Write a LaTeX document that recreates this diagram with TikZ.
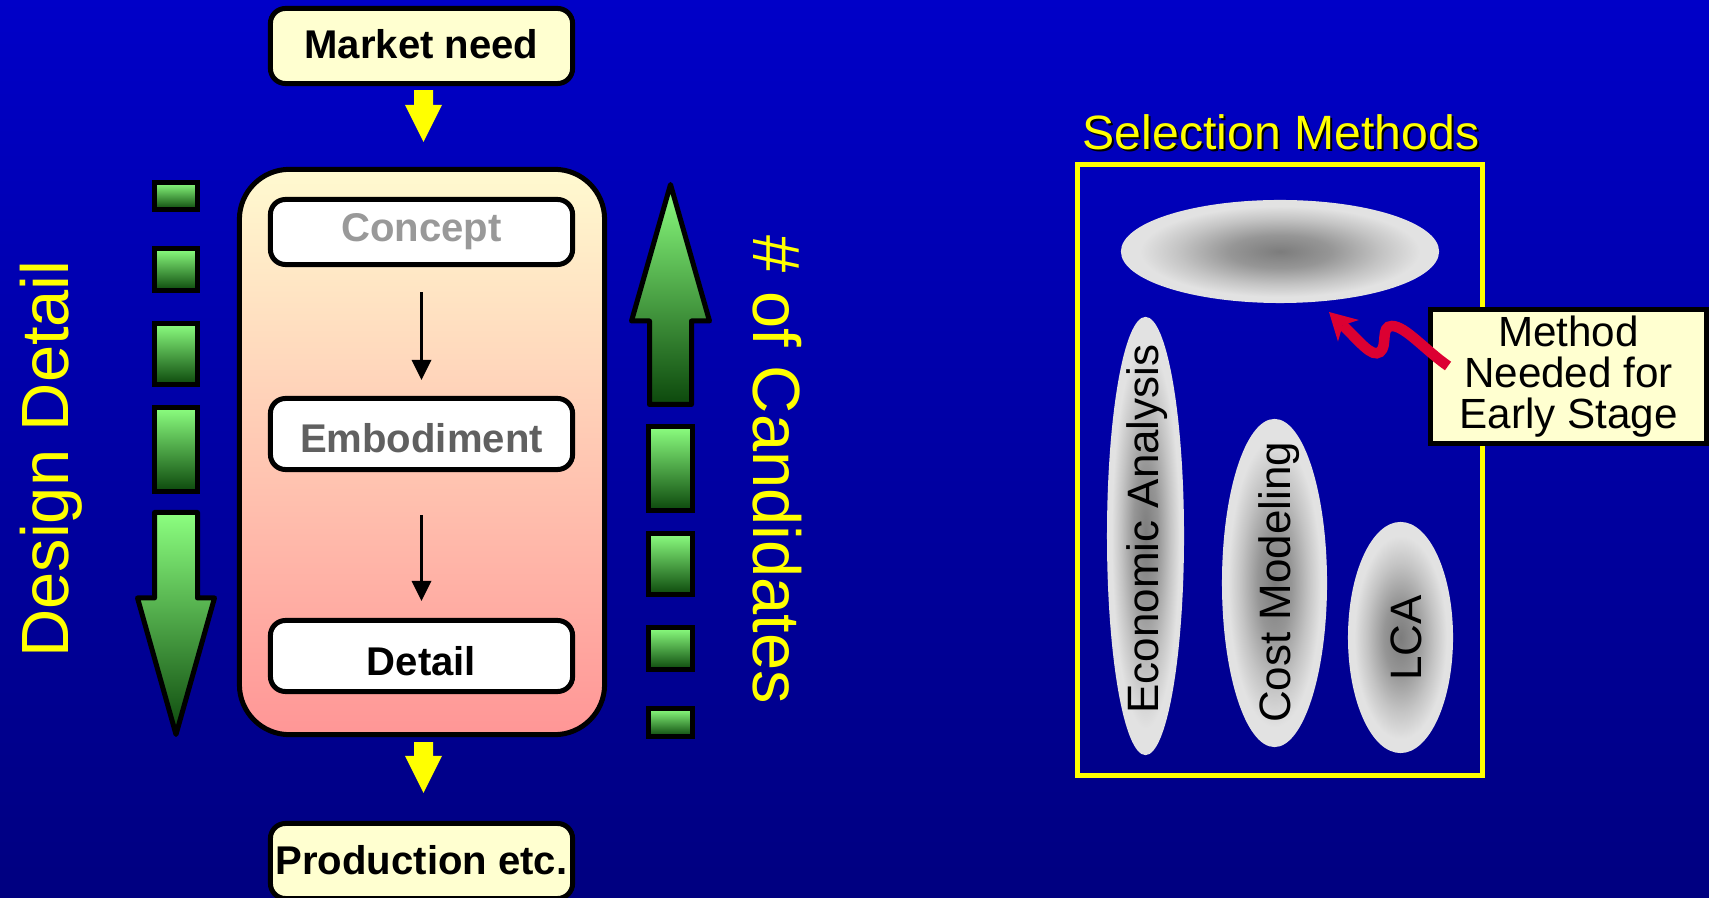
\documentclass[tikz,border=0pt]{standalone}
\usepackage{fontspec}
\setmainfont{Liberation Sans}
\usetikzlibrary{arrows.meta,shapes.geometric}

\definecolor{bgtop}{RGB}{0,0,200}
\definecolor{bgbot}{RGB}{0,0,128}
\definecolor{cream}{RGB}{255,255,208}
\definecolor{bigtop}{RGB}{255,250,208}
\definecolor{bigbot}{RGB}{255,150,150}
\definecolor{gtop}{RGB}{140,255,128}
\definecolor{gbot}{RGB}{12,72,12}
\definecolor{ylw}{RGB}{255,255,0}
\definecolor{gc}{RGB}{124,124,124}
\definecolor{gk}{RGB}{150,150,150}
\definecolor{gm}{RGB}{196,196,196}
\definecolor{gl}{RGB}{226,226,226}
\definecolor{redarr}{RGB}{220,0,50}
\definecolor{conceptgray}{RGB}{153,153,153}
\definecolor{embgray}{RGB}{96,96,96}

\pgfdeclareradialshading{ellgray}{\pgfpoint{0bp}{0bp}}{color(0bp)=(gc); color(8bp)=(gk); color(16bp)=(gm); color(22bp)=(gl); color(50bp)=(gl)}

\tikzset{
  flowbox/.style={draw=black, line width=0.05cm, rounded corners=0.15cm, minimum width=3.02cm, inner sep=0pt, font=\fontsize{11.4pt}{13pt}\selectfont\bfseries},
  bigbox/.style={draw=black, line width=0.05cm, rounded corners=0.5cm, top color=bigtop, bottom color=bigbot, minimum width=3.65cm, minimum height=5.65cm, inner sep=0pt},
  gbox/.style={draw=black, line width=0.05cm, top color=gtop, bottom color=gbot, minimum width=0.43cm, inner sep=0pt},
  garrow/.style={draw=black, line width=0.05cm, top color=gtop, bottom color=gbot, line join=round},
  yarrow/.style={draw=ylw, line width=0.19cm, -{Triangle[width=0.37cm,length=0.37cm,line width=0pt]}},
  flowarrow/.style={draw=black, line width=0.025cm, -{Triangle[width=0.2cm,length=0.2cm,line width=0pt]}},
  bigtxt/.style={text=ylw, font=\fontsize{19pt}{22pt}\selectfont, inner sep=0pt, anchor=base},
  elltxt/.style={text=black, font=\fontsize{12.5pt}{14pt}\selectfont, inner sep=0pt, anchor=base, rotate=90},
  ell/.style={ellipse, shade, shading=ellgray, inner sep=0pt},
  redarrow/.style={draw=redarr, line width=0.105cm, -{Stealth[length=0.27cm,width=0.3cm,inset=0.08cm,line width=0pt]}}
}
\newcommand{\shiftedtext}[2]{\raisebox{#1}[\height][\depth]{#2}}

\begin{document}
\begin{tikzpicture}[x=0.01cm, y=-0.01cm]
\useasboundingbox (0,0) rectangle (1709,898);
\shade[top color=bgtop, bottom color=bgbot] (0,0) rectangle (1709,898);

% central flow
\node[bigbox] (stages) at (422,452) {};
\node[flowbox, fill=cream, minimum height=0.75cm] (market) at (421.5,46) {\shiftedtext{0.02cm}{Market need}};
\node[flowbox, fill=white, text=conceptgray, minimum height=0.65cm] (concept) at (421.5,232) {Concept};
\node[flowbox, fill=white, text=embgray, minimum height=0.71cm] (embod) at (421.5,434) {\shiftedtext{-0.04cm}{Embodiment}};
\node[flowbox, fill=white, text=black, minimum height=0.71cm] (detail) at (421.5,656) {\shiftedtext{-0.05cm}{Detail}};
\node[flowbox, fill=cream, minimum height=0.75cm] (prod) at (421.5,861) {\shiftedtext{0.01cm}{Production etc.}};

\draw[yarrow, shorten <=0.04cm, shorten >=0.25cm] ([xshift=0.02cm]market.south) -- ([xshift=0.015cm]stages.north);
\draw[yarrow, shorten <=0.05cm, shorten >=0.28cm] ([xshift=0.015cm]stages.south) -- ([xshift=0.02cm]prod.north);
\draw[flowarrow, shorten <=0.25cm, shorten >=0.16cm] (concept) -- (embod);
\draw[flowarrow, shorten <=0.43cm, shorten >=0.17cm] (embod) -- (detail);

% left column
\node[gbox, minimum height=0.27cm] (l1) at (176,196) {};
\node[gbox, minimum height=0.42cm] (l2) at (176,269.5) {};
\node[gbox, minimum height=0.61cm] (l3) at (176,354) {};
\node[gbox, minimum height=0.84cm] (l4) at (176,449.5) {};
\draw[garrow] (154.5,512.5) -- (197.5,512.5) -- (197.5,598) -- (214.5,598) -- (176,734.5) -- (137.5,598) -- (154.5,598) -- cycle;
\node[bigtxt, rotate=90] (dd) at (68,459) {Design Detail};

% right column
\node[gbox, minimum height=0.84cm] (r1) at (670.5,468.5) {};
\node[gbox, minimum height=0.61cm] (r2) at (670.5,564) {};
\node[gbox, minimum height=0.42cm] (r3) at (670.5,648.5) {};
\node[gbox, minimum height=0.28cm] (r4) at (670.5,722.5) {};
\draw[garrow] (649.5,404.5) -- (691.5,404.5) -- (691.5,321) -- (709.5,321) -- (670.5,184.5) -- (631.5,321) -- (649.5,321) -- cycle;
\node[bigtxt, rotate=-90] (cand) at (753,470) {\# of Candidates};

% selection methods
\node[text=black, anchor=base, inner sep=0pt, font=\fontsize{13.7pt}{16pt}\selectfont] (seltshadow) at (1283,152) {Selection Methods};
\node[text=ylw, anchor=base, inner sep=0pt, font=\fontsize{13.7pt}{16pt}\selectfont] (selt) at (1281,150) {Selection Methods};
\node[draw=ylw, line width=0.05cm, minimum width=4.05cm, minimum height=6.11cm, inner sep=0pt] (selbox) at (1280,470) {};

\node[ell, minimum width=3.18cm, minimum height=1.03cm] (early) at (1280,251.5) {};
\node[ell, minimum width=0.77cm, minimum height=4.38cm] (econ) at (1145.5,536) {};
\node[ell, minimum width=1.05cm, minimum height=3.28cm] (cost) at (1274.5,583) {};
\node[ell, minimum width=1.05cm, minimum height=2.31cm] (lca) at (1400.5,637.5) {};
\node[elltxt] (econt) at (1158,529) {Economic Analysis};
\node[elltxt] (costt) at (1290,582.5) {Cost Modeling};
\node[elltxt] (lcat) at (1421,638) {LCA};

\node[draw=black, fill=cream, line width=0.05cm, minimum width=2.75cm, minimum height=1.34cm, align=center, inner sep=0pt, font=\fontsize{12pt}{11.7pt}\selectfont] (callout) at (1568.5,376.5) {Method\\Needed for\\Early Stage};

\coordinate (tailpt) at (1448,366);
\coordinate (tippt) at (1329,312);
\draw[redarrow] (tailpt) .. controls (1425,350) and (1405,326) .. (1392,326) .. controls (1380,326) and (1388,346) .. (1380,352) .. controls (1372,358) and (1360,342) .. (tippt);
\end{tikzpicture}
\end{document}
